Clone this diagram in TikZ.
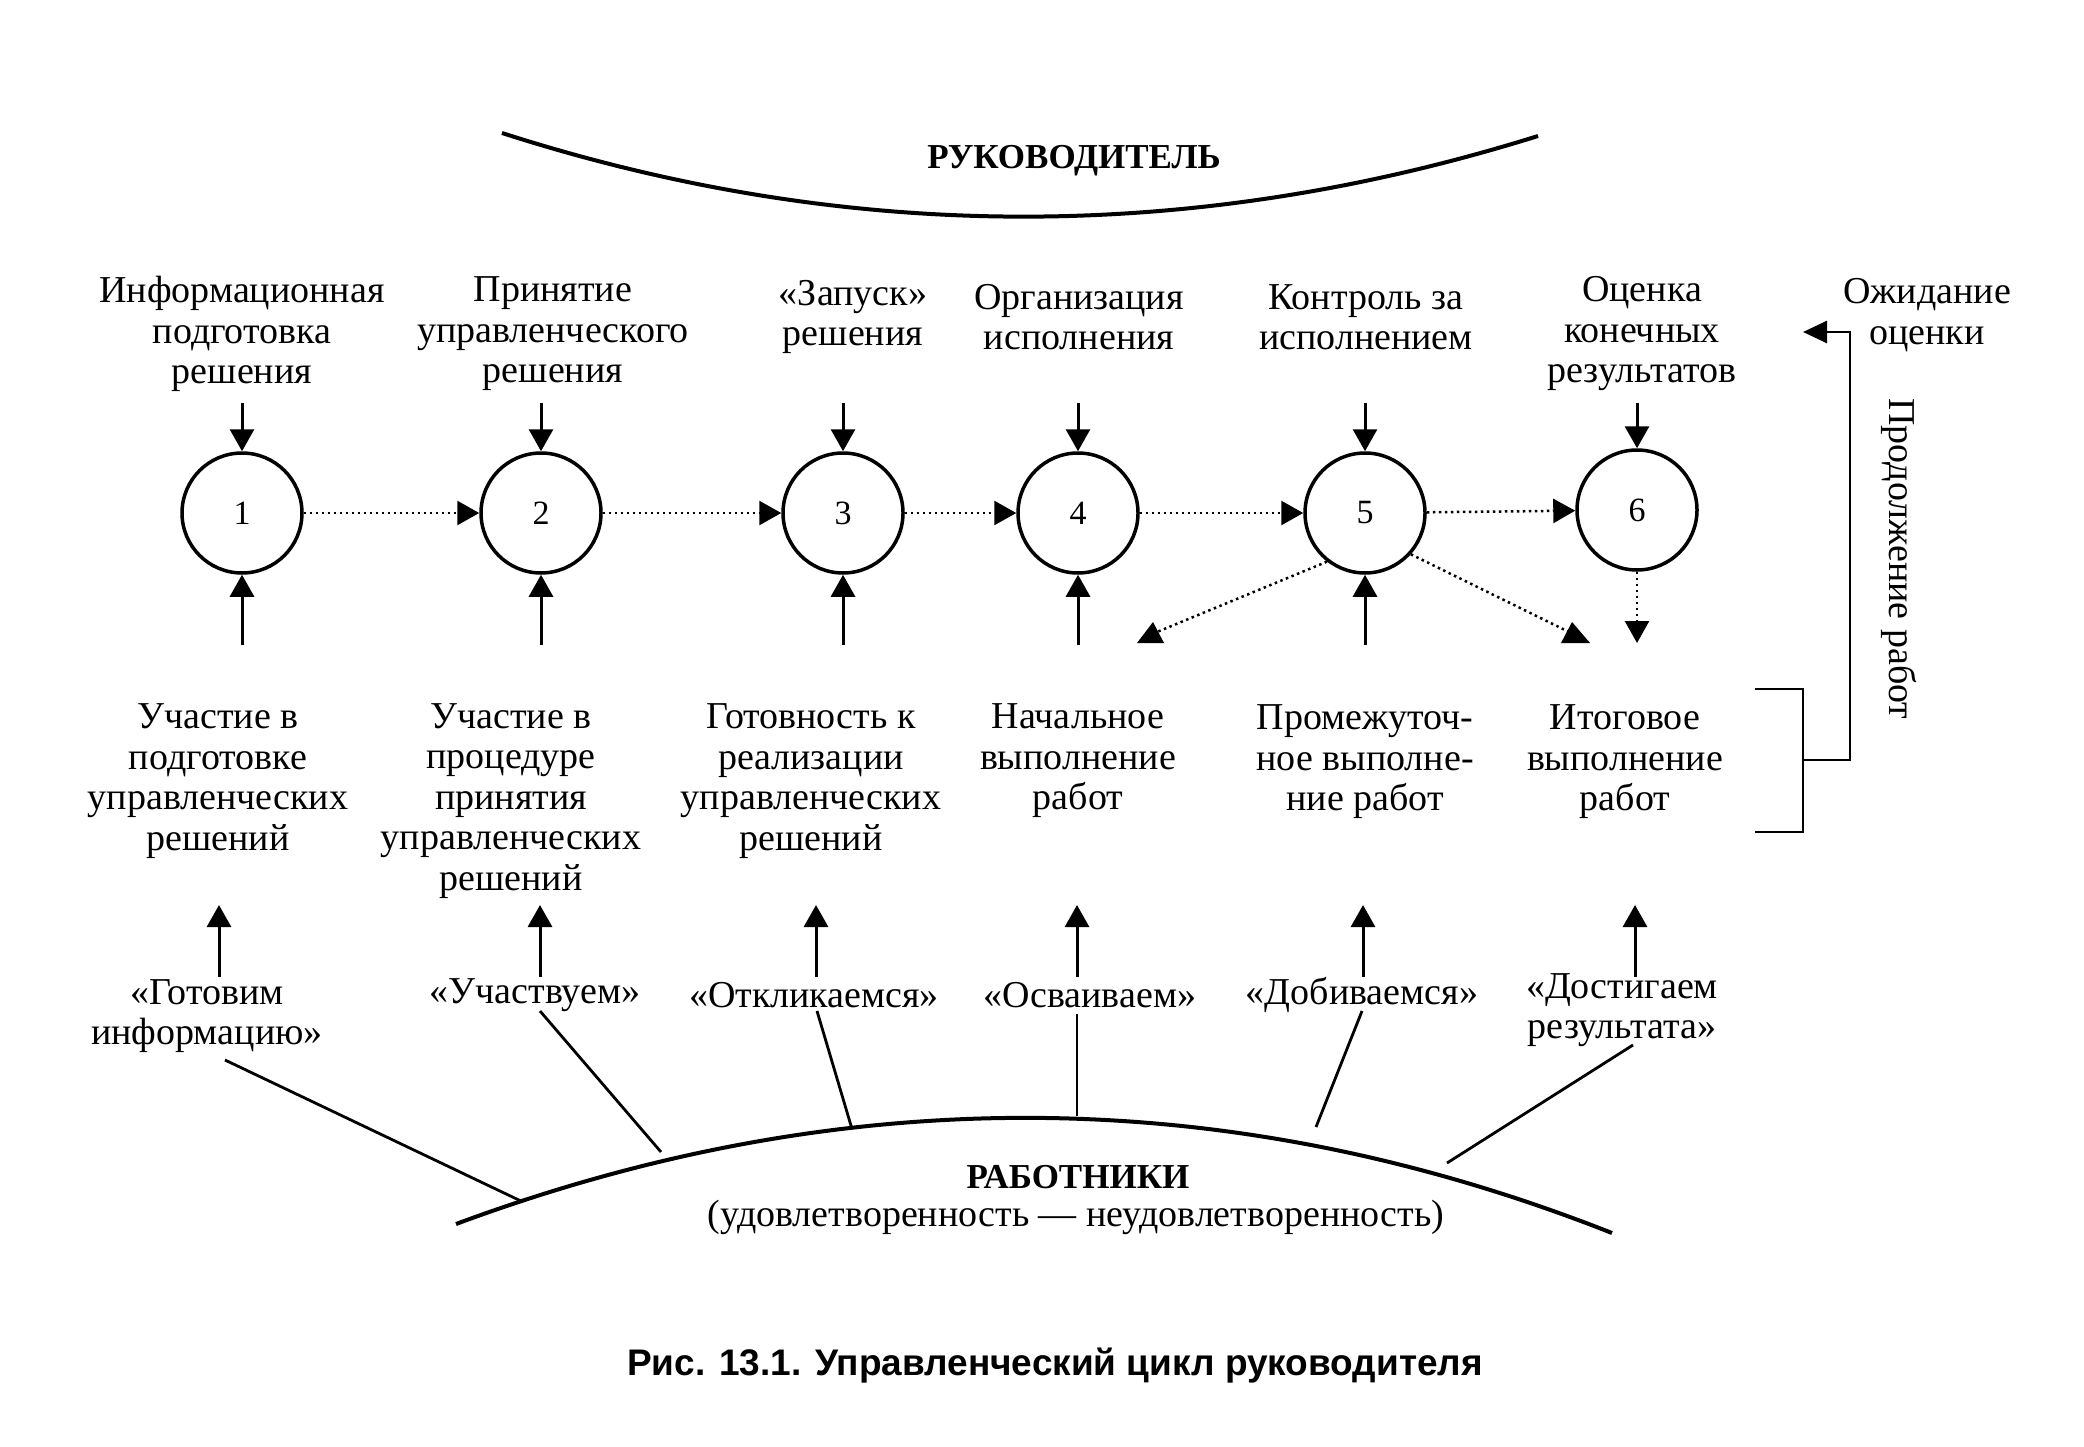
\documentclass[tikz,border=0pt]{standalone}
\usepackage{fontspec}
\setmainfont{Liberation Serif}
\newfontfamily\capfont{Liberation Sans}
\usetikzlibrary{arrows.meta}
\begin{document}
\begin{tikzpicture}[x=1pt,y=-1pt,
  lbl/.style={font=\fontsize{38}{40.5}\selectfont, align=center, inner sep=0pt},
  ttl/.style={font=\fontsize{35}{40}\selectfont\bfseries, inner sep=0pt},
  stage/.style={circle, draw, line width=3.5pt, minimum size=120pt, inner sep=0pt, font=\fontsize{34}{36}\selectfont},
  arr/.style={line width=3pt, -{Triangle[length=22pt,width=24pt]}},
  darr/.style={line width=2.5pt, dash pattern=on 2.5pt off 3.5pt, -{Triangle[length=22pt,width=24pt]}},
  ln/.style={line width=2.8pt},
  bigarc/.style={line width=4pt},
  dotln/.style={line width=2.5pt, dash pattern=on 2.5pt off 3.5pt}]
\useasboundingbox (0,0) rectangle (2084,1447);

% arcs
\draw[bigarc] (502,133) .. controls (847,244) and (1193,244) .. (1538,136);
\node[ttl] (boss) at (1074,161) {РУКОВОДИТЕЛЬ};
\draw[bigarc] (456,1224) .. controls (841,1081) and (1227,1081) .. (1612,1233);
\node[ttl] (staff) at (1078,1177) {РАБОТНИКИ};
\node[lbl] (staffsub) at (1076,1217) {(удовлетворенность — неудовлетворенность)};

% circles
\node[stage] (c1) at (242,513) {1};
\node[stage] (c2) at (541,513) {2};
\node[stage] (c3) at (843,513) {3};
\node[stage] (c4) at (1078,513) {4};
\node[stage] (c5) at (1365,513) {5};
\node[stage] (c6) at (1637,510) {6};

% top labels
\node[lbl] (t1) at (242,334) {Информационная\\подготовка\\решения};
\node[lbl] (t2) at (553,334) {Принятие\\управленческого\\решения};
\node[lbl] (t3) at (853,317) {«Запуск»\\решения};
\node[lbl] (t4) at (1079,317) {Организация\\исполнения};
\node[lbl] (t5) at (1366,317) {Контроль за\\исполнением};
\node[lbl] (t6) at (1642,334) {Оценка\\конечных\\результатов};
\node[lbl] (t7) at (1927,315) {Ожидание\\оценки};

% arrows into circles from top
\foreach \i/\x in {1/242,2/541,3/843,4/1078,5/1365,6/1637}{
  \coordinate (ta\i) at (\x,403);
  \draw[arr] (ta\i) -- (c\i);
}
% arrows into circles from below
\foreach \i/\x in {1/242,2/541,3/843,4/1078,5/1365}{
  \coordinate (ba\i) at (\x,645);
  \draw[arr] (ba\i) -- (c\i);
}

% dotted chain
\draw[darr] (c1) -- (c2);
\draw[darr] (c2) -- (c3);
\draw[darr] (c3) -- (c4);
\draw[darr] (c4) -- (c5);
\draw[darr] (c5) -- (c6);

% arrows from 5 and 6
\coordinate (dl) at (1157,632);
\coordinate (dr) at (1569,632);
\draw[dotln] (c5.232) -- (dl);
\draw[dotln] (c5.-42) -- (dr);
\fill (1137,643) -- (1164,643) -- (1153,622) -- cycle;
\fill (1561,643) -- (1590,643) -- (1572,622) -- cycle;
\coordinate (d6) at (1637,643);
\draw[darr] (c6) -- (d6);

% bottom labels
\node[lbl] (b1) at (218,781) {Участие в\\подготовке\\управленческих\\решений};
\node[lbl] (b2) at (511,801) {Участие в\\процедуре\\принятия\\управленческих\\решений};
\node[lbl] (b3) at (811,781) {Готовность к\\реализации\\управленческих\\решений};
\node[lbl] (b4) at (1078,761) {Начальное\\выполнение\\работ};
\node[lbl] (b5) at (1365,762) {Промежуточ-\\ное выполне-\\ние работ};
\node[lbl] (b6) at (1625,762) {Итоговое\\выполнение\\работ};

% quote labels
\node[lbl] (q1) at (207,1016) {«Готовим\\информацию»};
\node[lbl] (q2) at (535,995) {«Участвуем»};
\node[lbl] (q3) at (814,995) {«Откликаемся»};
\node[lbl] (q4) at (1090,995) {«Осваиваем»};
\node[lbl] (q5) at (1362,995) {«Добиваемся»};
\node[lbl] (q6) at (1622,1010) {«Достигаем\\результата»};

% up arrows from quotes to bottom labels
\foreach \i/\x in {1/219,2/540,3/816,4/1077,5/1363,6/1635}{
  \coordinate (qs\i) at (\x,977);
  \coordinate (qe\i) at (\x,905);
  \draw[arr] (qs\i) -- (qe\i);
}

% lines from quotes to workers arc
\coordinate (l1a) at (225,1060); \coordinate (l1b) at (523,1202);
\coordinate (l2a) at (540,1011); \coordinate (l2b) at (661,1152);
\coordinate (l3a) at (817,1011); \coordinate (l3b) at (852,1129);
\coordinate (l4a) at (1077,1014); \coordinate (l4b) at (1077,1116);
\coordinate (l5a) at (1362,1011); \coordinate (l5b) at (1316,1127);
\coordinate (l6a) at (1633,1045); \coordinate (l6b) at (1447,1163);
\foreach \i in {1,...,6}{ \draw[ln] (l\i a) -- (l\i b); }

% bracket and feedback arrow
\coordinate (k1) at (1755,689);
\coordinate (k2) at (1803,689);
\coordinate (k3) at (1803,832);
\coordinate (k4) at (1755,832);
\coordinate (km) at (1803,760);
\coordinate (kc) at (1850,760);
\coordinate (kt) at (1850,332);
\coordinate (ke) at (1803,332);
\draw[ln] (k1) -- (k2) -- (k3) -- (k4);
\draw[ln, -{Triangle[length=24pt,width=22pt]}] (km) -- (kc) -- (kt) -- (ke);
\node[lbl, rotate=-90] (cont) at (1899,559) {Продолжение работ};

% caption
\node[font=\capfont\bfseries\fontsize{37}{40}\selectfont, inner sep=0pt] (cap) at (1055,1366) {Рис. 13.1. Управленческий цикл руководителя};
\end{tikzpicture}
\end{document}
